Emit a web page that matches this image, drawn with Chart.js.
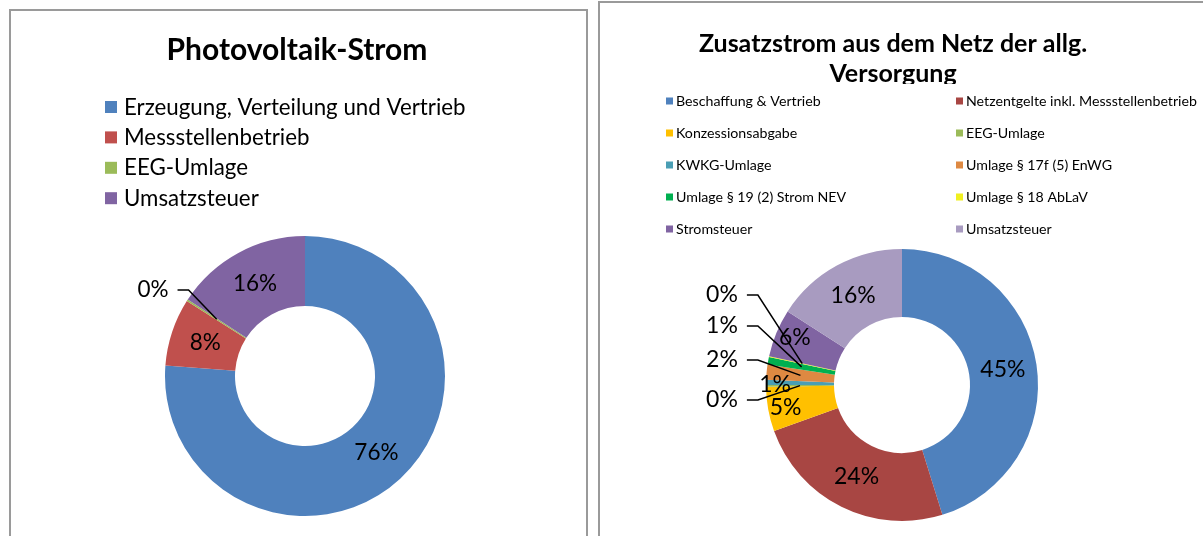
<!DOCTYPE html>
<html><head><meta charset="utf-8">
<script src="https://cdn.jsdelivr.net/npm/chart.js@4.4.1/dist/chart.umd.min.js"></script>
<style>
html,body{margin:0;padding:0;background:#fff;width:1203px;height:536px;overflow:hidden;position:relative}
.frame{position:absolute;border:2px solid #9a9a9a;box-sizing:border-box}
#f1{left:9px;top:9px;width:579px;height:600px}
#f2{left:598px;top:1px;width:700px;height:600px}
.cv{position:absolute;top:0;height:536px}
#w1{left:0;width:598px}
#w2{left:600px;width:603px}
</style></head>
<body>
<div class="frame" id="f1"></div><div class="frame" id="f2"></div>
<div class="cv" id="w1"><canvas id="c1"></canvas></div>
<div class="cv" id="w2"><canvas id="c2"></canvas></div>
<script>
// ---------- data ----------
const pvTitle = ['Photovoltaik-Strom'];
const pvCategories = ['Erzeugung, Verteilung und Vertrieb', 'Messstellenbetrieb', 'EEG-Umlage', 'Umsatzsteuer'];
const pvShares = [76.2, 7.8, 0.2, 15.8];
const pvColors = ['#4F81BD', '#C0504D', '#9BBB59', '#8064A2'];

const netTitle = ['Zusatzstrom aus dem Netz der allg.', 'Versorgung'];
const netCategories = ['Beschaffung & Vertrieb', 'Netzentgelte inkl. Messstellenbetrieb', 'Konzessionsabgabe', 'EEG-Umlage',
  'KWKG-Umlage', 'Umlage § 17f (5) EnWG', 'Umlage § 19 (2) Strom NEV', 'Umlage § 18 AbLaV', 'Stromsteuer', 'Umsatzsteuer'];
const netShares = [45.2, 24.3, 5.3, 0.2, 0.6, 1.8, 0.9, 0.1, 5.7, 15.9];
const netColors = ['#4F81BD', '#A84643', '#FFC000', '#9BBB59', '#4A9EB4', '#DE8942', '#00B050', '#F0F020', '#8064A2', '#A89BC0'];

// ---------- plugins ----------
function makeDecor(cfg) {
  return {
    id: 'decor',
    afterDraw(chart) {
      const ctx = chart.ctx;
      const labels = chart.data.labels;
      const colors = chart.data.datasets[0].backgroundColor;
      ctx.save();
      // title
      ctx.save();
      ctx.beginPath(); ctx.rect(0, 0, chart.width, cfg.titleClip); ctx.clip();
      ctx.font = cfg.titleFont; ctx.fillStyle = '#000'; ctx.textAlign = 'center'; ctx.textBaseline = 'middle';
      cfg.title.forEach((t, i) => ctx.fillText(t, cfg.titleX, cfg.titleY + i * cfg.titleDy));
      ctx.restore();
      // legend
      ctx.font = cfg.legFont; ctx.textBaseline = 'middle'; ctx.textAlign = 'left';
      labels.forEach((l, i) => {
        const col = i % cfg.cols, row = Math.floor(i / cfg.cols);
        const x = cfg.legX[col], y = cfg.legY0 + row * cfg.legDy;
        ctx.fillStyle = colors[i];
        ctx.fillRect(x, y - cfg.box / 2, cfg.box, cfg.box);
        ctx.fillStyle = '#000';
        ctx.fillText(l, x + cfg.gap, y + 0.5);
      });
      ctx.restore();
    }
  };
}
function makeSliceLabels(cfg) {
  return {
    id: 'sliceLabels',
    afterDatasetsDraw(chart) {
      const ctx = chart.ctx;
      const meta = chart.getDatasetMeta(0);
      const data = chart.data.datasets[0].data;
      const total = data.reduce((a, b) => a + b, 0);
      ctx.save();
      ctx.font = cfg.font; ctx.fillStyle = '#000'; ctx.strokeStyle = '#000'; ctx.lineWidth = 1.5;
      ctx.textAlign = 'center'; ctx.textBaseline = 'middle';
      meta.data.forEach((arc, i) => {
        const p = arc.getProps(['x', 'y', 'startAngle', 'endAngle', 'innerRadius', 'outerRadius'], true);
        const mid = (p.startAngle + p.endAngle) / 2;
        const r = (p.innerRadius + p.outerRadius) / 2;
        const ax = p.x + Math.cos(mid) * r, ay = p.y + Math.sin(mid) * r;
        const txt = Math.round(data[i] / total * 100) + '%';
        const out = cfg.outside[i];
        if (out) {
          const lx = p.x + out[0], ly = p.y + out[1];
          ctx.fillText(txt, lx, ly);
          const w = ctx.measureText(txt).width;
          const sx = lx + w / 2 + 9;
          ctx.beginPath(); ctx.moveTo(sx, ly); ctx.lineTo(sx + 11, ly); ctx.lineTo(ax, ay); ctx.stroke();
        } else {
          const n = cfg.nudge[i] || [0, 0];
          ctx.fillText(txt, ax + n[0], ay + n[1]);
        }
      });
      ctx.restore();
    }
  };
}

function donut(canvasId, categories, values, colors, pad, decorCfg, labelCfg) {
  return new Chart(document.getElementById(canvasId), {
    type: 'doughnut',
    data: { labels: categories, datasets: [{ data: values, backgroundColor: colors, borderWidth: 0 }] },
    options: {
      responsive: true, maintainAspectRatio: false, animation: false, events: [],
      cutout: '50%',
      layout: { padding: pad },
      plugins: { legend: { display: false }, title: { display: false }, tooltip: { enabled: false } }
    },
    plugins: [makeSliceLabels(labelCfg), makeDecor(decorCfg)]
  });
}

donut('c1', pvCategories, pvShares, pvColors,
  { left: 165, right: 153, top: 236, bottom: 20 },
  { title: pvTitle, titleFont: 'bold 30px Lato', titleX: 297, titleY: 50, titleDy: 0, titleClip: 536,
    legFont: '22.3px Lato', cols: 1, legX: [105], legY0: 107, legDy: 30.4, box: 12, gap: 19 },
  { font: '22.5px Lato', outside: { 2: [-152, -86] }, nudge: {} });

donut('c2', netCategories, netShares, netColors,
  { left: 166, right: 165, top: 249, bottom: 15 },
  { title: netTitle, titleFont: 'bold 25px Lato', titleX: 293, titleY: 44, titleDy: 30, titleClip: 84,
    legFont: '14.2px Lato', cols: 2, legX: [66, 356], legY0: 101, legDy: 32, box: 7, gap: 10 },
  { font: '23px Lato', outside: { 3: [-180, 15], 5: [-180, -25], 6: [-180, -59], 7: [-180, -90] },
    nudge: { 4: [-25, 2], 2: [-16, 4], 8: [-13, -8] } });
</script>
</body></html>
